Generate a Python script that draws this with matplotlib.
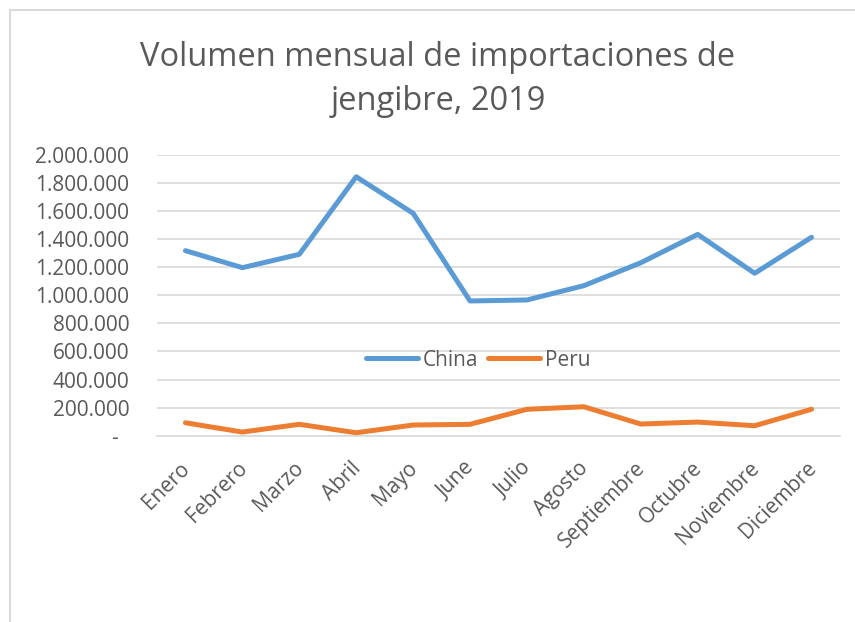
import matplotlib
matplotlib.use("Agg")
import matplotlib.pyplot as plt
import matplotlib.transforms as mtransforms
from matplotlib.ticker import FuncFormatter, MultipleLocator
from matplotlib.lines import Line2D

months = ["Enero", "Febrero", "Marzo", "Abril", "Mayo", "June", "Julio",
          "Agosto", "Septiembre", "Octubre", "Noviembre", "Diciembre"]
china = [1317000, 1196000, 1291000, 1843000, 1583000, 959000, 966000,
         1068000, 1231000, 1433000, 1156000, 1412000]
peru = [92000, 26000, 81000, 21000, 76000, 81000, 188000,
        206000, 83000, 97000, 71000, 188000]
title_lines = ["Volumen mensual de importaciones de", "jengibre, 2019"]

plt.rcParams['font.family'] = ['Open Sans', 'DejaVu Sans']
TXT = '#595959'
GRID = '#d9d9d9'

fig = plt.figure(figsize=(8.55, 6.22), dpi=100)
ax = fig.add_axes([157/855, (622-435.7)/622, (840-157)/855, (435.7-154.7)/622])

x = list(range(len(months)))
ax.plot(x, china, color='#5B9BD5', lw=3.6, solid_capstyle='round', solid_joinstyle='round', label='China')
ax.plot(x, peru, color='#ED7D31', lw=3.6, solid_capstyle='round', solid_joinstyle='round', label='Peru')

ax.set_xlim(-0.5, 11.5)
ax.set_ylim(0, 2000000)
ax.yaxis.set_major_locator(MultipleLocator(200000))

def fmt(v, p):
    if abs(v) < 1:
        return "-  "
    return f"{int(round(v)):,}".replace(",", ".")
ax.yaxis.set_major_formatter(FuncFormatter(fmt))
ax.grid(axis='y', color=GRID, lw=1.2)
ax.set_axisbelow(True)
for s in ['top', 'right', 'left']:
    ax.spines[s].set_visible(False)
ax.spines['bottom'].set_color(GRID)
ax.spines['bottom'].set_linewidth(1.2)
ax.tick_params(axis='both', length=0, colors=TXT, labelsize=15)
ax.tick_params(axis='y', pad=20)
ax.set_xticks(x)
ax.set_xticklabels(months, rotation=45, ha='right', rotation_mode='anchor')
ax.tick_params(axis='x', pad=16)
shift = mtransforms.ScaledTranslation(-6/100, 0, fig.dpi_scale_trans)
for lab in ax.get_xticklabels():
    lab.set_transform(lab.get_transform() + shift)

leg = ax.legend(loc='center', bbox_to_anchor=(478/855, (622-360)/622), bbox_transform=fig.transFigure,
                ncol=2, frameon=False, fontsize=15, handlelength=2.5, handletextpad=0.25,
                columnspacing=0.45, labelcolor=TXT)

fig.text(438/855, 1-57/622, title_lines[0], ha='center', va='center', fontsize=23.5, color=TXT)
fig.text(438/855, 1-101/622, title_lines[1], ha='center', va='center', fontsize=23.5, color=TXT)

fig.add_artist(Line2D([10/855, 10/855], [0, 1-10/622], transform=fig.transFigure, color=GRID, lw=1.5))
fig.add_artist(Line2D([10/855, 1], [1-10/622, 1-10/622], transform=fig.transFigure, color=GRID, lw=1.5))

fig.savefig("out.png", dpi=100)
